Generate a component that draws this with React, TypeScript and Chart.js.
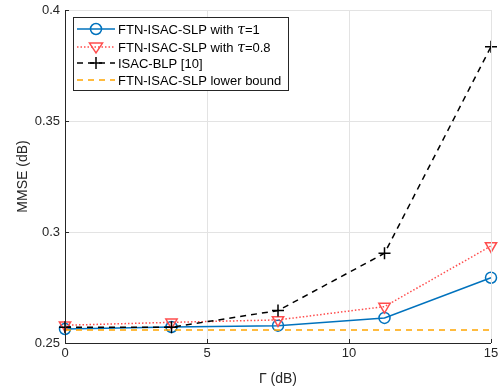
import React, { useEffect, useRef } from 'react';
import { Chart, registerables } from 'chart.js';
Chart.register(...registerables);

const gammaDb = [0, 3.75, 7.5, 11.25, 15];
const tau1 = [0.2563, 0.2572, 0.2578, 0.2613, 0.2794];
const tau08 = [0.258, 0.2593, 0.2604, 0.2664, 0.2937];
const isacBlp = [0.2571, 0.2571, 0.2646, 0.2904, 0.3835];
const lowerBound = [0.2559, 0.2559, 0.2559, 0.2559, 0.2559];
const xTickValues = [0, 5, 10, 15];
const yTickValues = [0.25, 0.3, 0.35, 0.4];
const yTickLabels = ['0.25', '0.3', '0.35', '0.4'];
const seriesLabels = [
  'FTN-ISAC-SLP with τ=1',
  'FTN-ISAC-SLP with τ=0.8',
  'ISAC-BLP [10]',
  'FTN-ISAC-SLP lower bound',
];
const xTitle = 'Γ (dB)';
const yTitle = 'MMSE (dB)';

const BLUE = '#0072BD';
const RED = '#FF4D4D';
const BLACK = '#000000';
const ORANGE = '#FFA500';
const AXIS = '#262626';
const GRID = '#E3E3E3';
const FONT = '"Liberation Sans", Arial, sans-serif';

function toXY(vals: number[]) {
  return gammaDb.map((x, i) => ({ x, y: vals[i] }));
}

const inwardTicks = {
  id: 'inwardTicks',
  afterDatasetsDraw(chart: any) {
    const { ctx, chartArea: a, scales } = chart;
    ctx.save();
    ctx.strokeStyle = GRID;
    ctx.lineWidth = 1;
    ctx.beginPath();
    ctx.moveTo(a.left, Math.round(a.top) + 0.5);
    ctx.lineTo(Math.round(a.right) + 0.5, Math.round(a.top) + 0.5);
    ctx.lineTo(Math.round(a.right) + 0.5, a.bottom);
    ctx.stroke();
    ctx.strokeStyle = AXIS;
    ctx.beginPath();
    yTickValues.forEach((v) => {
      const y = Math.round(scales.y.getPixelForValue(v)) + 0.5;
      ctx.moveTo(a.left, y);
      ctx.lineTo(a.left + 4, y);
    });
    xTickValues.forEach((v) => {
      const x = Math.round(scales.x.getPixelForValue(v)) + 0.5;
      ctx.moveTo(x, a.bottom);
      ctx.lineTo(x, a.bottom - 4);
    });
    ctx.stroke();
    ctx.beginPath();
    ctx.moveTo(Math.round(a.left) + 0.5, a.top);
    ctx.lineTo(Math.round(a.left) + 0.5, Math.round(a.bottom) + 0.5);
    ctx.lineTo(a.right, Math.round(a.bottom) + 0.5);
    ctx.stroke();
    ctx.restore();
  },
};

const insideLegend = {
  id: 'insideLegend',
  afterDraw(chart: any) {
    const { ctx, chartArea: a } = chart;
    const bx = Math.round(a.left) + 8;
    const by = Math.round(a.top) + 7;
    const bw = 215;
    const bh = 73;
    ctx.save();
    ctx.fillStyle = '#ffffff';
    ctx.fillRect(bx, by, bw, bh);
    ctx.strokeStyle = AXIS;
    ctx.lineWidth = 1;
    ctx.strokeRect(bx + 0.5, by + 0.5, bw, bh);
    const rows = [12, 30, 46, 63];
    const ds = chart.data.datasets;
    seriesLabels.forEach((label, i) => {
      const y = by + rows[i];
      const d = ds[i];
      const x0 = bx + 4;
      const x1 = bx + 42;
      ctx.save();
      ctx.strokeStyle = d.borderColor;
      ctx.lineWidth = d.borderWidth;
      ctx.setLineDash(d.borderDash || []);
      ctx.beginPath();
      ctx.moveTo(x0, y);
      ctx.lineTo(x1, y);
      ctx.stroke();
      ctx.setLineDash([]);
      const cx = (x0 + x1) / 2;
      ctx.lineWidth = 1.5;
      if (d.pointStyle === 'circle' && d.pointRadius > 0) {
        ctx.beginPath();
        ctx.arc(cx, y, d.pointRadius, 0, Math.PI * 2);
        ctx.stroke();
      } else if (d.pointStyle === 'triangle' && d.pointRadius > 0) {
        const r = d.pointRadius;
        ctx.beginPath();
        ctx.moveTo(cx - r, y - r * 0.6);
        ctx.lineTo(cx + r, y - r * 0.6);
        ctx.lineTo(cx, y + r * 0.9);
        ctx.closePath();
        ctx.stroke();
      } else if (d.pointStyle === 'cross' && d.pointRadius > 0) {
        const r = d.pointRadius;
        ctx.beginPath();
        ctx.moveTo(cx - r, y);
        ctx.lineTo(cx + r, y);
        ctx.moveTo(cx, y - r);
        ctx.lineTo(cx, y + r);
        ctx.stroke();
      }
      ctx.restore();
      ctx.fillStyle = '#000000';
      ctx.textBaseline = 'middle';
      ctx.textAlign = 'left';
      let tx = bx + 45;
      const parts = label.split('τ');
      ctx.font = '13px ' + FONT;
      ctx.fillText(parts[0], tx, y + 1);
      tx += ctx.measureText(parts[0]).width;
      if (parts.length > 1) {
        ctx.font = 'italic 14px "DejaVu Serif", "Liberation Serif", serif';
        ctx.fillText('τ', tx, y + 1);
        tx += ctx.measureText('τ').width;
        ctx.font = '13px ' + FONT;
        ctx.fillText(parts[1], tx, y + 1);
      }
    });
    ctx.restore();
  },
};

export default function App() {
  const ref = useRef<HTMLCanvasElement | null>(null);
  useEffect(() => {
    if (!ref.current) return;
    const chart = new Chart(ref.current, {
      type: 'line',
      data: {
        datasets: [
          {
            label: seriesLabels[0],
            data: toXY(tau1),
            borderColor: BLUE,
            backgroundColor: 'rgba(0,0,0,0)',
            borderWidth: 1.5,
            pointStyle: 'circle',
            pointRadius: 5.5,
            pointBorderWidth: 1.5,
            pointBorderColor: BLUE,
            order: 4,
          },
          {
            label: seriesLabels[1],
            data: toXY(tau08),
            borderColor: RED,
            backgroundColor: 'rgba(0,0,0,0)',
            borderWidth: 1.5,
            borderDash: [1.5, 2],
            pointStyle: 'triangle',
            rotation: 180,
            pointRadius: 6.5,
            pointBorderWidth: 1.5,
            pointBorderColor: RED,
            order: 3,
          },
          {
            label: seriesLabels[2],
            data: toXY(isacBlp),
            borderColor: BLACK,
            backgroundColor: 'rgba(0,0,0,0)',
            borderWidth: 1.5,
            borderDash: [6, 5],
            pointStyle: 'cross',
            pointRadius: 6,
            pointBorderWidth: 1.5,
            pointBorderColor: BLACK,
            order: 2,
          },
          {
            label: seriesLabels[3],
            data: toXY(lowerBound),
            borderColor: ORANGE,
            backgroundColor: 'rgba(0,0,0,0)',
            borderWidth: 1.5,
            borderDash: [6, 5],
            pointRadius: 0,
            order: 1,
          },
        ] as any,
      },
      options: {
        responsive: false,
        animation: false,
        clip: false as any,
        layout: { padding: { top: 10, right: 8, left: 15, bottom: 0 } },
        plugins: {
          legend: { display: false },
          tooltip: { enabled: false },
        },
        scales: {
          x: {
            type: 'linear',
            min: 0,
            max: 15,
            afterBuildTicks: (s: any) => {
              s.ticks = xTickValues.map((v) => ({ value: v }));
            },
            afterFit: (s: any) => {
              s.height = 45;
              s.paddingRight = 0;
              s.paddingLeft = 0;
            },
            ticks: {
              color: AXIS,
              font: { family: FONT, size: 13 },
              padding: 3,
              maxRotation: 0,
            },
            grid: { color: GRID, drawTicks: false, lineWidth: 1 },
            border: { display: false },
            title: {
              display: true,
              text: xTitle,
              color: AXIS,
              font: { family: FONT, size: 14 },
              padding: { top: 4, bottom: 0 },
            },
          },
          y: {
            type: 'linear',
            min: 0.25,
            max: 0.4,
            afterBuildTicks: (s: any) => {
              s.ticks = yTickValues.map((v) => ({ value: v }));
            },
            afterFit: (s: any) => {
              s.width = 50;
              s.paddingTop = 0;
              s.paddingBottom = 0;
            },
            ticks: {
              color: AXIS,
              font: { family: FONT, size: 13 },
              padding: 5,
              callback: (v: any) => {
                const i = yTickValues.findIndex((t) => Math.abs(t - Number(v)) < 1e-9);
                return i >= 0 ? yTickLabels[i] : '';
              },
            },
            grid: { color: GRID, drawTicks: false, lineWidth: 1 },
            border: { display: false },
            title: {
              display: true,
              text: yTitle,
              color: AXIS,
              font: { family: FONT, size: 14 },
              padding: { top: 0, bottom: 4 },
            },
          },
        },
      },
      plugins: [inwardTicks, insideLegend],
    } as any);
    return () => chart.destroy();
  }, []);
  return (
    <div style={{ position: 'absolute', left: 0, top: 0, width: 499, height: 388, background: '#fff' }}>
      <canvas ref={ref} width={499} height={388} />
    </div>
  );
}
